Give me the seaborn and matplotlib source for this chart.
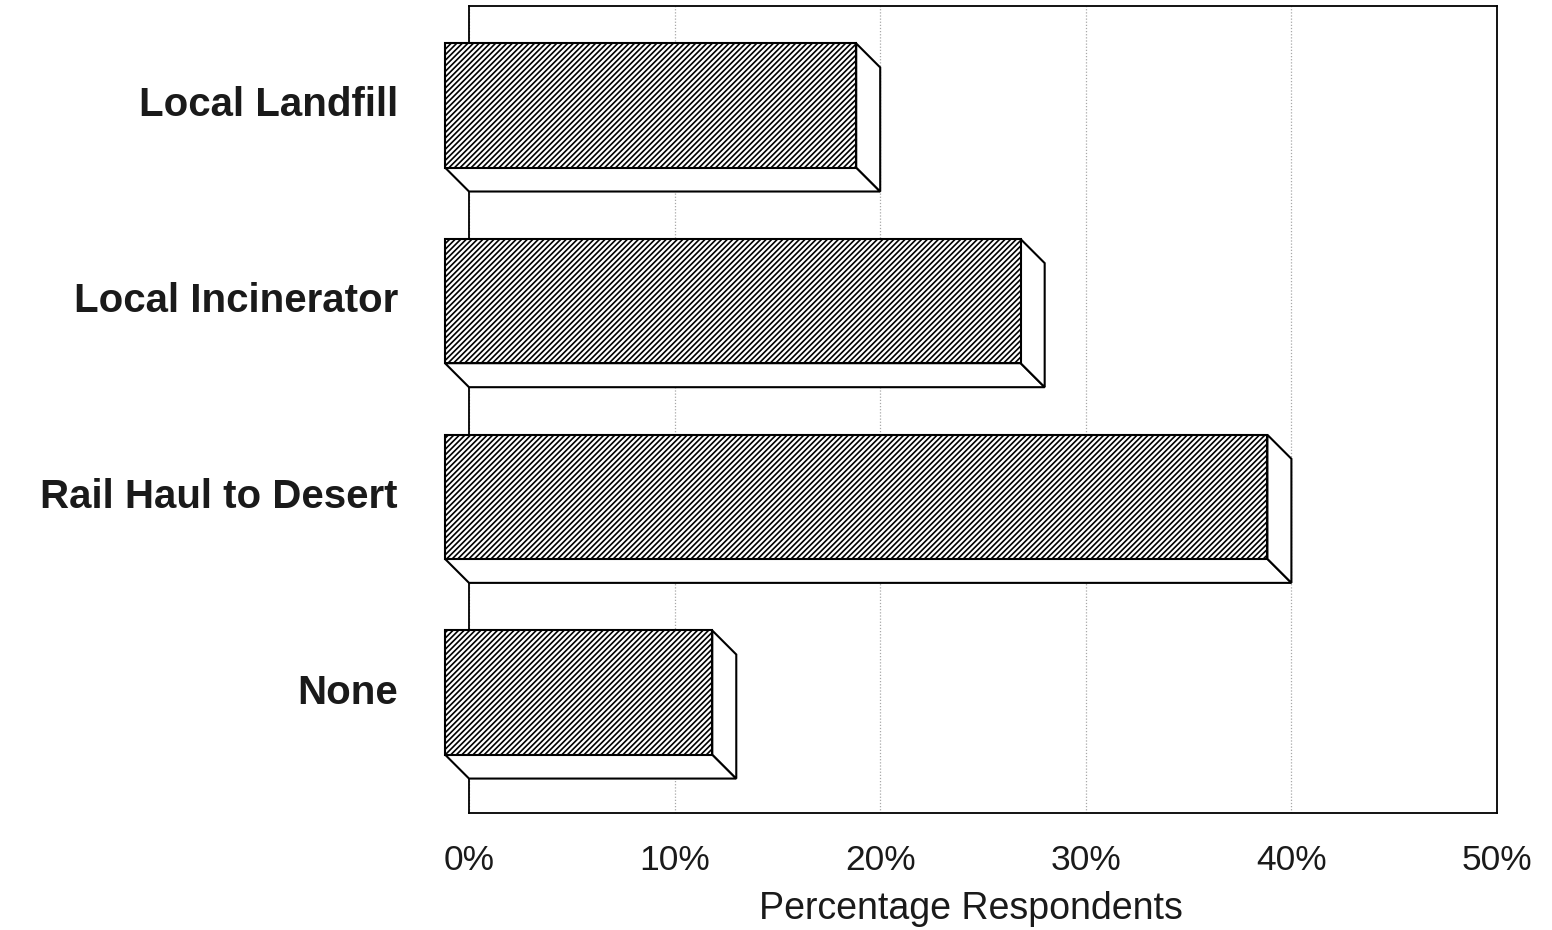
"""Horizontal 3D-style bar chart: preferred disposal option, percentage of respondents."""
import matplotlib
matplotlib.use("Agg")
import matplotlib.pyplot as plt
import seaborn as sns
from matplotlib.patches import Polygon
from matplotlib.transforms import ScaledTranslation

# data
categories = ["Local Landfill", "Local Incinerator", "Rail Haul to Desert", "None"]
percent = [20, 28, 40, 13]
x_ticks = [0, 10, 20, 30, 40, 50]
x_tick_labels = ["0%", "10%", "20%", "30%", "40%", "50%"]
x_label = "Percentage Respondents"

sns.set_theme(style="white")
plt.rcParams["font.family"] = ["Liberation Sans", "DejaVu Sans"]
plt.rcParams["hatch.linewidth"] = 1.2
text_color = "#1a1a1a"

fig = plt.figure(figsize=(15.52, 9.3), dpi=100)
ax = fig.add_axes([469 / 1552, 117 / 930, 1028 / 1552, 807 / 930])

# seaborn draws the bars, later moved forward to become the hatched front face
sns.barplot(x=percent, y=categories, orient="h", color="white", edgecolor="black",
            linewidth=1.5, width=0.634, hatch="//////", ax=ax)

ax.set_xlim(0, 50)
ax.set_ylim(3.493, -0.631)

# depth of the fake 3D block: 24 px left and up for the front face
origin = ax.transData.transform((0, 0))
dx, dy = ax.transData.inverted().transform(origin + [-24, 24])

for patch in ax.patches[:len(categories)]:
    x0, y0 = patch.get_x(), patch.get_y()
    w, h = patch.get_width(), patch.get_height()
    yb = y0 + h  # lower edge on screen (y axis is inverted)
    # bottom face
    bottom = Polygon([(x0 + dx, yb + dy), (x0 + w + dx, yb + dy), (x0 + w, yb), (x0, yb)],
                     closed=True, facecolor="white", edgecolor="black", linewidth=1.5,
                     zorder=3, clip_on=False)
    # right side face
    side = Polygon([(x0 + w + dx, y0 + dy), (x0 + w, y0), (x0 + w, yb), (x0 + w + dx, yb + dy)],
                   closed=True, facecolor="white", edgecolor="black", linewidth=1.5,
                   zorder=3, clip_on=False)
    ax.add_patch(bottom)
    ax.add_patch(side)
    # front face
    patch.set_x(x0 + dx)
    patch.set_y(y0 + dy)
    patch.set_zorder(4)
    patch.set_clip_on(False)

# frame and grid
for spine in ax.spines.values():
    spine.set_visible(True)
    spine.set_color("black")
    spine.set_linewidth(1.3)
ax.set_axisbelow(True)
ax.grid(axis="x", color="#a8a8a8", linestyle=(0, (1, 1.5)), linewidth=0.9)
ax.grid(axis="y", visible=False)

ax.set_xticks(x_ticks, labels=x_tick_labels)
ax.tick_params(axis="x", length=0, pad=22, labelsize=25.5, labelcolor=text_color)
ax.tick_params(axis="y", length=0, labelleft=False)
ax.set_ylabel("")

# category labels sit level with the front face
label_shift = ScaledTranslation(-71 / 100, 24 / 100, fig.dpi_scale_trans)
for i, cat in enumerate(categories):
    ax.text(0, i, cat, transform=ax.get_yaxis_transform() + label_shift,
            ha="right", va="center", fontsize=29, fontweight="bold", color=text_color)

ax.set_xlabel(x_label, fontsize=27, color=text_color)
ax.xaxis.set_label_coords(0.488, -0.097)

fig.savefig("out.png", dpi=100)
